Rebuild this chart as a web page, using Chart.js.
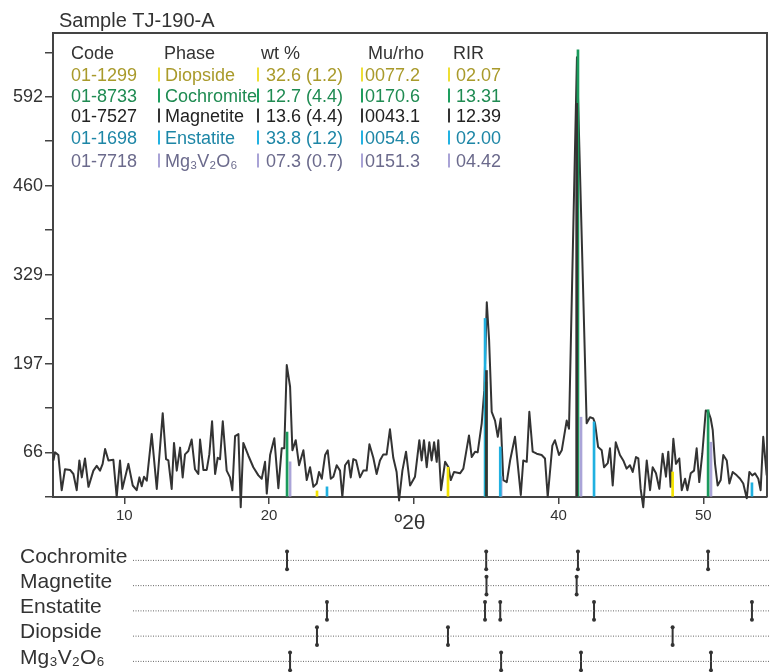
<!DOCTYPE html>
<html>
<head>
<meta charset="utf-8">
<script src="https://cdn.jsdelivr.net/npm/chart.js@4.4.1/dist/chart.umd.min.js"></script>
<style>
  body { margin: 0; background: #fff; }
  #wrap { position: relative; width: 771px; height: 672px; overflow: hidden; }
  #main { position: absolute; left: 0; top: 0; }
  #sticks { position: absolute; left: 0; top: 536px; }
</style>
</head>
<body>
<div id="wrap">
  <canvas id="main" width="771" height="540"></canvas>
  <canvas id="sticks" width="771" height="142"></canvas>
</div>
<script>
// measured profile (deg 2theta / counts)
var twoTheta = [5.10, 5.21, 5.44, 5.67, 5.90, 6.25, 6.48, 6.71, 6.89, 7.06, 7.28, 7.52, 7.86, 8.09, 8.32, 8.50, 8.67, 8.90, 9.24, 9.47,
  9.70, 9.86, 10.28, 10.58, 10.85, 11.04, 11.20, 11.36, 11.55, 11.89, 12.24, 12.65, 12.88, 13.04, 13.27, 13.43, 13.62, 13.85, 14.03, 14.19,
  14.42, 14.65, 14.88, 15.11, 15.23, 15.46, 15.69, 15.87, 16.06, 16.27, 16.45, 16.61, 16.80, 17.07, 17.30, 17.46, 17.65, 17.88, 18.04, 18.22,
  18.57, 18.91, 19.26, 19.49, 19.72, 19.84, 20.07, 20.36, 20.64, 20.87, 21.05, 21.22, 21.45, 21.61, 21.84, 22.07, 22.37, 22.60, 22.83, 23.06,
  23.29, 23.45, 23.64, 23.87, 24.05, 24.26, 24.44, 24.67, 24.90, 25.06, 25.25, 25.48, 25.64, 25.82, 26.01, 26.28, 26.51, 26.74, 26.93, 27.20,
  27.43, 27.66, 27.89, 28.12, 28.35, 28.58, 28.81, 28.98, 29.21, 29.46, 29.74, 30.08, 30.38, 30.54, 30.70, 30.89, 31.07, 31.23, 31.40, 31.58,
  31.69, 31.88, 32.16, 32.39, 32.55, 32.78, 33.19, 33.42, 33.81, 34.00, 34.23, 34.41, 34.69, 34.87, 35.04, 35.20, 35.38, 35.61, 35.80, 36.00,
  36.18, 36.42, 36.65, 36.99, 37.39, 37.56, 37.80, 37.98, 38.21, 38.49, 38.83, 39.06, 39.25, 39.57, 39.75, 40.03, 40.22, 40.56, 40.72, 41.27,
  41.94, 42.17, 42.40, 42.52, 42.73, 42.98, 43.14, 43.40, 43.55, 43.74, 43.95, 44.24, 44.47, 44.70, 44.93, 45.12, 45.35, 45.51, 45.67, 45.85,
  46.09, 46.32, 46.50, 46.73, 46.96, 47.19, 47.42, 47.58, 47.74, 47.93, 48.11, 48.34, 48.51, 48.74, 48.90, 49.13, 49.36, 49.54, 49.72, 49.93,
  50.17, 50.35, 50.51, 50.65, 50.81, 50.99, 51.20, 51.38, 51.62, 51.80, 52.03, 52.31, 52.54, 52.76, 53.00, 53.18, 53.38, 53.57, 53.80, 53.96,
  54.14, 54.38];
var counts = [54, 66, 62, 10, 41, 40, 34, 10, 54, 29, 57, 15, 39, 46, 39, 49, 71, 54, 55, 0,
  54, 12, 49, 17, 10, 29, 16, 30, 24, 93, 12, 124, 56, 54, 12, 80, 39, 73, 29, 63,
  68, 85, 41, 34, 85, 40, 40, 63, 112, 34, 58, 56, 112, 39, 29, 10, 90, 93, -15, 80,
  61, 44, 32, 27, 52, 5, 62, 87, 13, 72, 72, 195, 163, 69, 84, 47, 69, 25, 44, 15,
  20, 37, 27, 62, 69, 27, 30, 47, 39, 0, 47, 54, 29, 56, 54, 29, 39, 39, 78, 58,
  34, 54, 63, 63, 100, 58, 37, -5, 39, 67, 17, 30, 84, 54, 84, 44, 81, 54, 81, 52,
  84, 10, 52, 44, 25, 37, 35, 42, 91, 59, 67, 66, 109, 158, 288, 232, 126, 113, 89, 116,
  25, 22, 54, 89, 3, 54, 52, 126, 67, 64, 62, 57, 0, 76, 84, 62, 69, 113, 101, 650,
  109, 118, 116, 109, 74, 69, 44, 50, 72, 17, 81, 62, 54, 42, 47, 37, 59, 57, 12, -15,
  54, 10, 44, 35, 12, 64, 30, 67, 15, 86, 49, 57, 10, 27, 10, 35, 39, 72, 22, 64,
  128, 126, 116, 99, 49, 17, 25, 62, 54, 20, 37, 32, 27, 20, -2, 37, 32, 35, 27, 10,
  89, 32];

// reference peak positions and stick heights per phase
var cochromitePos = [21.24, 35.00, 41.34, 50.33];
var cochromiteH = [96, 170, 661, 129];
var magnetitePos = [35.02, 41.25];
var magnetiteH = [187, 582];
var enstatitePos = [24.00, 34.92, 35.97, 42.45, 53.36];
var enstatiteH = [15, 264, 74, 111, 21];
var diopsidePos = [23.31, 32.36, 47.88];
var diopsideH = [9, 44, 37];
var mg3v2o6Pos = [21.45, 36.03, 41.55, 50.53];
var mg3v2o6H = [52, 30, 118, 81];

// axis ticks
var xTickValues = [10, 20, 30, 40, 50];
var xTickLabels = ['10', '20', '', '40', '50'];
var yTickValues = [0, 65.75, 131.5, 197.25, 263, 328.75, 394.5, 460.25, 526, 591.75, 657.5];
var yTickLabels = ['', '66', '', '197', '', '329', '', '460', '', '592', ''];

// phase table
var tableHeader = ['Code', 'Phase', 'wt %', 'Mu/rho', 'RIR'];
var tableCodes = ['01-1299', '01-8733', '01-7527', '01-1698', '01-7718'];
var tablePhases = ['Diopside', 'Cochromite', 'Magnetite', 'Enstatite', 'Mg₃V₂O₆'];
var tableWt = ['32.6 (1.2)', '12.7 (4.4)', '13.6 (4.4)', '33.8 (1.2)', '07.3 (0.7)'];
var tableMu = ['0077.2', '0170.6', '0043.1', '0054.6', '0151.3'];
var tableRir = ['02.07', '13.31', '12.39', '02.00', '04.42'];

// lower panel
var rowLabels = ['Cochromite', 'Magnetite', 'Enstatite', 'Diopside', 'Mg₃V₂O₆'];
var rowPositions = [cochromitePos, magnetitePos, enstatitePos, diopsidePos, mg3v2o6Pos];

var FONT = "'Liberation Sans', Arial, Helvetica, sans-serif";
Chart.defaults.font.family = FONT;
Chart.defaults.color = '#333';

var textColors = ['#a99a2b', '#1f8b52', '#222222', '#1d86a6', '#6b6a8c'];
var barColors = ['#eedf34', '#1e9e5e', '#333333', '#22b2e2', '#a9a3d6'];

function toPoints(xs, ys) {
    return xs.map(function (x, i) { return { x: x, y: ys[i] }; });
}

function stickSet(label, xs, hs, color, order) {
    return {
        type: 'bar', label: label, data: toPoints(xs, hs),
        backgroundColor: color, borderWidth: 0, barThickness: 2,
        grouped: false, order: order
    };
}

var framePlugin = {
    id: 'frame',
    afterDraw: function (chart) {
        var a = chart.chartArea, ctx = chart.ctx;
        ctx.save();
        ctx.strokeStyle = '#444';
        ctx.lineWidth = 2;
        ctx.beginPath();
        ctx.moveTo(a.left, a.top);
        ctx.lineTo(a.right, a.top);
        ctx.lineTo(a.right, a.bottom);
        ctx.stroke();
        // chart title
        ctx.fillStyle = '#333';
        ctx.font = '20px ' + FONT;
        ctx.textBaseline = 'alphabetic';
        ctx.fillText('Sample TJ-190-A', 59, 27);
        ctx.restore();
    }
};

var tablePlugin = {
    id: 'phaseTable',
    afterDraw: function (chart) {
        var ctx = chart.ctx;
        var headX = [71, 164, 261, 368, 453];
        var colX = [71, 165, 266, 365, 456];
        var barX = [158, 257, 361, 448];
        var rowY = [59, 81, 102, 122, 144, 167];
        ctx.save();
        ctx.font = '18px ' + FONT;
        ctx.textBaseline = 'alphabetic';
        ctx.fillStyle = '#333';
        tableHeader.forEach(function (h, i) { ctx.fillText(h, headX[i], rowY[0]); });
        tableCodes.forEach(function (code, r) {
            var y = rowY[r + 1];
            var cells = [code, tablePhases[r], tableWt[r], tableMu[r], tableRir[r]];
            ctx.fillStyle = textColors[r];
            cells.forEach(function (c, i) { ctx.fillText(c, colX[i], y); });
            ctx.fillStyle = barColors[r];
            barX.forEach(function (bx) { ctx.fillRect(bx, y - 13.5, 2, 14); });
        });
        ctx.restore();
    }
};

new Chart(document.getElementById('main'), {
    type: 'line',
    data: {
        datasets: [
            {
                label: 'profile', data: toPoints(twoTheta, counts),
                borderColor: '#333', borderWidth: 2, pointRadius: 0, tension: 0,
                borderJoinStyle: 'round', clip: false, order: 10
            },
            stickSet('Magnetite', magnetitePos, magnetiteH, '#333333', 1),
            stickSet('Cochromite', cochromitePos, cochromiteH, '#1a9a5c', 2),
            stickSet('Enstatite', enstatitePos, enstatiteH, '#20b0e0', 3),
            stickSet('Mg3V2O6', mg3v2o6Pos, mg3v2o6H, '#aaa4d8', 4),
            stickSet('Diopside', diopsidePos, diopsideH, '#f5e400', 5)
        ]
    },
    options: {
        responsive: false,
        animation: false,
        layout: { padding: { top: 33, right: 4, left: 0, bottom: 0 } },
        plugins: { legend: { display: false }, tooltip: { enabled: false } },
        scales: {
            x: {
                type: 'linear', min: 5.07, max: 54.4, offset: false,
                afterBuildTicks: function (s) { s.ticks = xTickValues.map(function (v) { return { value: v }; }); },
                afterFit: function (s) { s.height = 43; },
                ticks: {
                    autoSkip: false, maxRotation: 0, padding: 3, font: { size: 15 },
                    callback: function (v, i) { return xTickLabels[i]; }
                },
                grid: { display: true, offset: false, drawOnChartArea: false, tickLength: 7, color: '#444', lineWidth: 1.5 },
                border: { display: true, color: '#444', width: 2 },
                title: { display: true, text: 'º2θ', font: { size: 21 }, padding: { top: 0, bottom: 4 } }
            },
            y: {
                type: 'linear', min: 0, max: 686,
                afterBuildTicks: function (s) { s.ticks = yTickValues.map(function (v) { return { value: v }; }); },
                afterFit: function (s) { s.width = 53; },
                ticks: {
                    autoSkip: false, padding: 2, font: { size: 18 },
                    callback: function (v, i) { return yTickLabels[i]; }
                },
                grid: { display: true, drawOnChartArea: false, tickLength: 8, color: '#444', lineWidth: 1.5 },
                border: { display: true, color: '#444', width: 2 }
            }
        }
    },
    plugins: [framePlugin, tablePlugin]
});

// lower panel: dotted guide per phase with peak markers
var dotStart = 10.6, dotEnd = 54.6, half = 0.353;
var guidePoints = [];
rowLabels.forEach(function (l, i) {
    guidePoints.push({ x: dotStart, y: i + 1 }, { x: dotEnd, y: i + 1 }, { x: dotEnd, y: null });
});
var markerSets = rowPositions.map(function (list, i) {
    var pts = [];
    list.forEach(function (p) {
        pts.push({ x: p, y: i + 1 - half }, { x: p, y: i + 1 + half }, { x: p, y: null });
    });
    return {
        label: rowLabels[i], data: pts, borderColor: '#333', borderWidth: 2,
        pointRadius: 2, pointBackgroundColor: '#333', pointBorderWidth: 0, clip: false
    };
});

new Chart(document.getElementById('sticks'), {
    type: 'line',
    data: {
        datasets: [{
            label: 'guides', data: guidePoints, borderColor: '#666', borderWidth: 1,
            borderDash: [1, 1.5], pointRadius: 0, clip: false
        }].concat(markerSets)
    },
    options: {
        responsive: false,
        animation: false,
        layout: { padding: { left: 20, right: 4, top: 11.75, bottom: 2.75 } },
        plugins: { legend: { display: false }, tooltip: { enabled: false } },
        scales: {
            x: { type: 'linear', min: dotStart, max: 54.4, display: false },
            y: {
                type: 'linear', min: 0.5, max: 5.5, reverse: true,
                afterBuildTicks: function (s) { s.ticks = rowLabels.map(function (l, i) { return { value: i + 1 }; }); },
                afterFit: function (s) { s.width = 113; s.paddingTop = 0; s.paddingBottom = 0; },
                ticks: {
                    autoSkip: false, crossAlign: 'far', labelOffset: -3.5, font: { size: 21 }, color: '#333',
                    callback: function (v, i) { return rowLabels[i]; }
                },
                grid: { display: false },
                border: { display: false }
            }
        }
    }
});
</script>
</body>
</html>
